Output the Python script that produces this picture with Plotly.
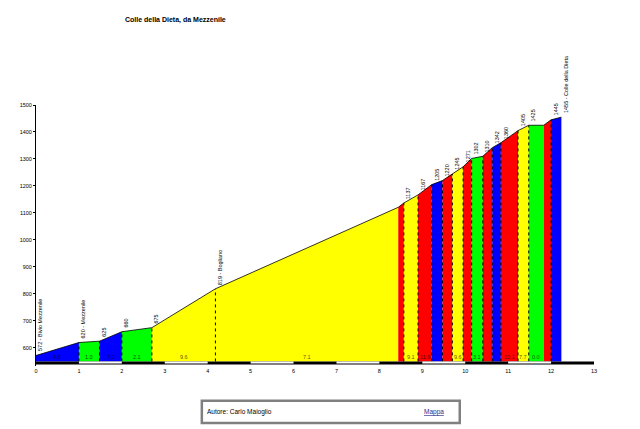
import plotly.graph_objects as go

# --- profile data (km, metres) ---
km = [0.00, 1.00, 1.48, 2.00, 2.70, 4.18, 8.44, 8.57, 8.90, 9.22, 9.47, 9.70,
      9.95, 10.15, 10.41, 10.63, 10.83, 11.23, 11.48, 11.83, 12.00, 12.24]
elev = [572, 620, 625, 660, 675, 819, 1121, 1137, 1167, 1205, 1220, 1245,
        1271, 1302, 1310, 1342, 1360, 1405, 1425, 1425, 1445, 1455]
point_labels = ["572 - Bivio Mezzenile", "620 - Mezzenile", "625", "660", "675",
                "819 - Bogliano", "", "1137", "1167", "1205", "1220", "1245",
                "1271", "1302", "1310", "1342", "1360", "1405", "1425", "",
                "1445", "1455 - Colle della Dieta"]
seg_colors = ["blue", "green", "blue", "green", "yellow", "yellow", "red", "yellow",
              "red", "blue", "red", "yellow", "red", "green", "red", "blue", "red",
              "yellow", "green", "red", "blue"]
seg_grades = ["4.8", "1.0", "7.0", "2.1", "9.6", "7.1", "", "9.1", "11.9", "", "",
              "9.6", "", "3.1", "", "", "10.1", "7.7", "0.0", "", ""]
x_ticks = list(range(0, 14))
y_ticks = list(range(600, 1501, 100))

BASE = 550
COLORS = {"blue": "#0000FF", "green": "#00FF00", "yellow": "#FFFF00", "red": "#FF0000"}
FONT = "Arial, Liberation Sans, sans-serif"

# page body adds an 8px margin, so work in window pixels minus that offset
OFF = 8
W, H = 640 - OFF, 429 - OFF
L, R, T, B = 29 - OFF, 594.3 - OFF, 104.7 - OFF, 366.1 - OFF


def px_x(p):
    return (p - OFF - L) / (R - L)


def px_y(p):
    return (B - (p - OFF)) / (B - T)


fig = go.Figure()

# coloured gradient segments
for i, c in enumerate(seg_colors):
    x0, x1 = km[i], km[i + 1]
    fig.add_trace(go.Scatter(
        x=[x0, x0, x1, x1, x0], y=[BASE, elev[i], elev[i + 1], BASE, BASE],
        fill="toself", fillcolor=COLORS[c], mode="lines",
        line=dict(width=0, color=COLORS[c]), hoverinfo="skip", showlegend=False))

# dotted dividers at labelled points
for i in range(1, len(km) - 1):
    if point_labels[i]:
        fig.add_trace(go.Scatter(
            x=[km[i], km[i]], y=[BASE, elev[i]], mode="lines",
            line=dict(color="black", width=1, dash="dot"),
            hoverinfo="skip", showlegend=False))

# profile outline
fig.add_trace(go.Scatter(x=km, y=elev, mode="lines",
                         line=dict(color="black", width=0.8),
                         hoverinfo="skip", showlegend=False))

shapes = [dict(type="rect", xref="x", yref="y", x0=0, x1=13, y0=539, y1=BASE,
               fillcolor="black", line=dict(width=0))]
for k in range(1, 13, 2):
    shapes.append(dict(type="rect", xref="x", yref="y", x0=k, x1=k + 1,
                       y0=542.5, y1=BASE, fillcolor="white", line=dict(width=0)))
shapes.append(dict(type="rect", xref="paper", yref="paper",
                   x0=px_x(197), x1=px_x(458.3), y0=px_y(423.3), y1=px_y(401),
                   fillcolor="white", line=dict(color="#808080", width=2.5)))

annotations = []
for x, y, t in zip(km, elev, point_labels):
    if t:
        annotations.append(dict(x=x, y=y, text=t, textangle=-90, showarrow=False,
                                xanchor="left", yanchor="bottom", xshift=0.5, yshift=3,
                                borderpad=0, font=dict(family=FONT, size=5.5, color="black")))
for i, g in enumerate(seg_grades):
    if g:
        annotations.append(dict(x=(km[i] + km[i + 1]) / 2, y=BASE, text=g, showarrow=False,
                                xanchor="center", yanchor="bottom", yshift=0.5, borderpad=0,
                                font=dict(family=FONT, size=5.5, color="rgba(0,0,0,0.7)")))

annotations += [
    dict(xref="paper", yref="paper", x=px_x(117), y=px_y(20), xanchor="left", yanchor="middle",
         text="<b>Colle della Dieta, da Mezzenile</b>", showarrow=False,
         font=dict(family=FONT, size=7, color="black")),
    dict(xref="paper", yref="paper", x=px_x(200), y=px_y(412.5), xanchor="left", yanchor="middle",
         text="Autore: Carlo Maioglio", showarrow=False,
         font=dict(family=FONT, size=6.5, color="black")),
    dict(xref="paper", yref="paper", x=px_x(420), y=px_y(412.5), xanchor="left", yanchor="middle",
         text="<u>Mappa</u>", showarrow=False,
         font=dict(family=FONT, size=6.5, color="#2b2b8a")),
]

fig.update_layout(
    width=W, height=H,
    margin=dict(l=L, r=W - R, t=T, b=H - B, pad=0),
    plot_bgcolor="white", paper_bgcolor="white",
    showlegend=False,
    shapes=shapes, annotations=annotations,
    xaxis=dict(range=[0, 13], tickvals=x_ticks, ticktext=[str(v) for v in x_ticks],
               showgrid=False, zeroline=False, showline=False, ticks="",
               tickfont=dict(family=FONT, size=5.5, color="black")),
    yaxis=dict(range=[533, 1500], tickvals=y_ticks, showgrid=False, zeroline=False,
               showline=True, linecolor="black", linewidth=1, ticks="outside",
               ticklen=2, tickcolor="black",
               tickfont=dict(family=FONT, size=5.5, color="black")),
)

fig.write_html("out.html")
